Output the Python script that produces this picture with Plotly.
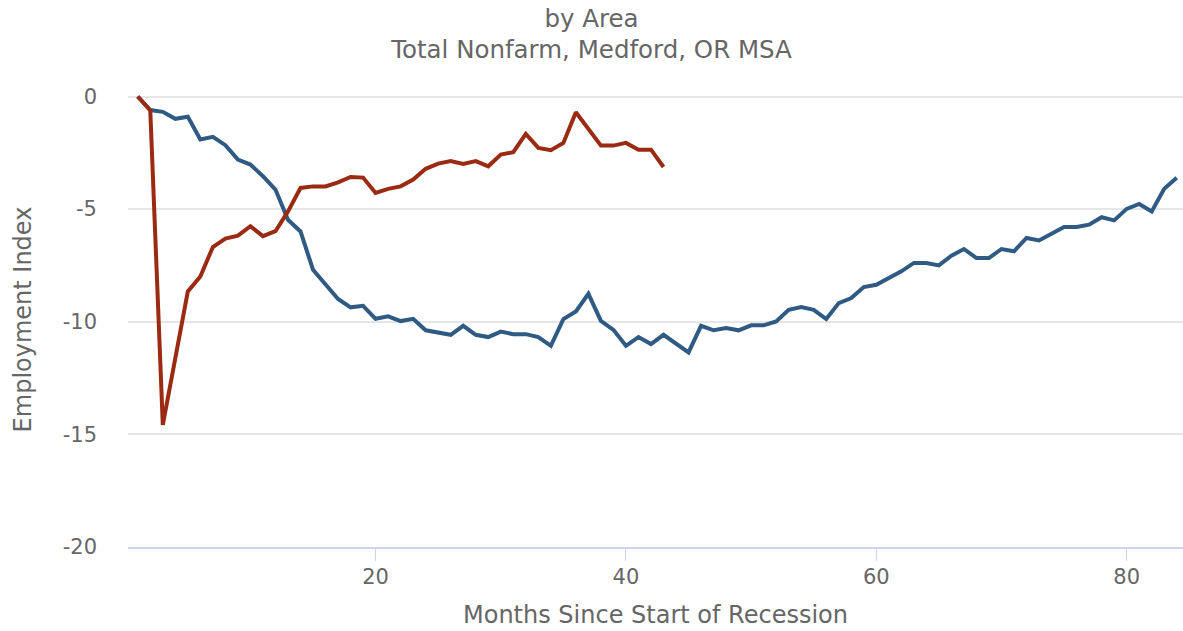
import plotly.graph_objects as go

# Employment index by month since start of recession, Medford, OR MSA
great_months = list(range(1, 85))
great_index = [
    0.0, -0.6, -0.68, -0.99, -0.9, -1.91, -1.79, -2.16, -2.8, -3.02,
    -3.54, -4.13, -5.47, -5.99, -7.69, -8.36, -8.99, -9.36, -9.29, -9.87,
    -9.76, -9.97, -9.87, -10.38, -10.49, -10.58, -10.18, -10.58, -10.68, -10.44,
    -10.55, -10.55, -10.68, -11.07, -9.88, -9.54, -8.76, -9.96, -10.36, -11.07,
    -10.68, -10.99, -10.58, -10.95, -11.36, -10.18, -10.38, -10.28, -10.38, -10.16,
    -10.16, -9.99, -9.47, -9.35, -9.47, -9.88, -9.17, -8.95, -8.46, -8.36,
    -8.06, -7.76, -7.39, -7.39, -7.5, -7.07, -6.77, -7.17, -7.17, -6.77,
    -6.87, -6.28, -6.39, -6.09, -5.79, -5.79, -5.69, -5.36, -5.5, -4.99,
    -4.77, -5.1, -4.1, -3.61,
]

current_months = list(range(1, 44))
current_index = [
    0.0, -0.62, -14.58, -11.6, -8.65, -7.99, -6.68, -6.31, -6.18, -5.76,
    -6.2, -5.98, -5.1, -4.06, -3.99, -3.99, -3.81, -3.57, -3.6, -4.28,
    -4.1, -3.99, -3.69, -3.21, -2.98, -2.87, -2.99, -2.87, -3.1, -2.58,
    -2.47, -1.66, -2.28, -2.38, -2.06, -0.7, -1.44, -2.18, -2.18, -2.06,
    -2.36, -2.36, -3.13,
]

y_ticks = [0, -5, -10, -15, -20]
y_tick_labels = ["0", "-5", "-10", "-15", "-20"]
x_ticks = [20, 40, 60, 80]

text_color = "#666666"
font_family = "DejaVu Sans"

fig = go.Figure()
fig.add_trace(go.Scatter(
    x=great_months, y=great_index, mode="lines", name="Great Recession",
    line=dict(color="#2f5a84", width=4),
))
fig.add_trace(go.Scatter(
    x=current_months, y=current_index, mode="lines", name="Current Recession",
    line=dict(color="#9a2a12", width=4),
))

fig.update_layout(
    width=1183,
    height=631,
    paper_bgcolor="white",
    plot_bgcolor="white",
    showlegend=False,
    margin=dict(l=128, r=0, t=91.5, b=84),
    font=dict(family=font_family, color=text_color),
    title=dict(
        text="by Area<br>Total Nonfarm, Medford, OR MSA",
        x=0.5, xanchor="center",
        y=0.958, yanchor="top", yref="container",
        font=dict(size=24.5, color=text_color),
    ),
)

fig.update_xaxes(
    range=[0.22, 84.5],
    tickvals=x_ticks,
    showgrid=False,
    zeroline=False,
    showline=True,
    linecolor="#ccd6eb",
    linewidth=1.5,
    ticks="outside",
    ticklen=12,
    tickcolor="#ccd6eb",
    tickfont=dict(size=21, color=text_color),
    ticklabelstandoff=-2,
    title=dict(text="Months Since Start of Recession",
               font=dict(size=24, color=text_color), standoff=18),
)

fig.update_yaxes(
    range=[-20, 0.2],
    tickvals=y_ticks,
    ticktext=y_tick_labels,
    showgrid=True,
    gridcolor="#e6e6e6",
    gridwidth=1.5,
    zeroline=False,
    showline=False,
    ticks="",
    tickfont=dict(size=21, color=text_color),
    ticklabelstandoff=30,
    title=dict(text="Employment Index",
               font=dict(size=24, color=text_color), standoff=24),
)

# the page's default body margin would push the fixed-size figure off-screen
fig.write_html("out.html", config={"displayModeBar": False},
               post_script="document.body.style.margin = '0';")
